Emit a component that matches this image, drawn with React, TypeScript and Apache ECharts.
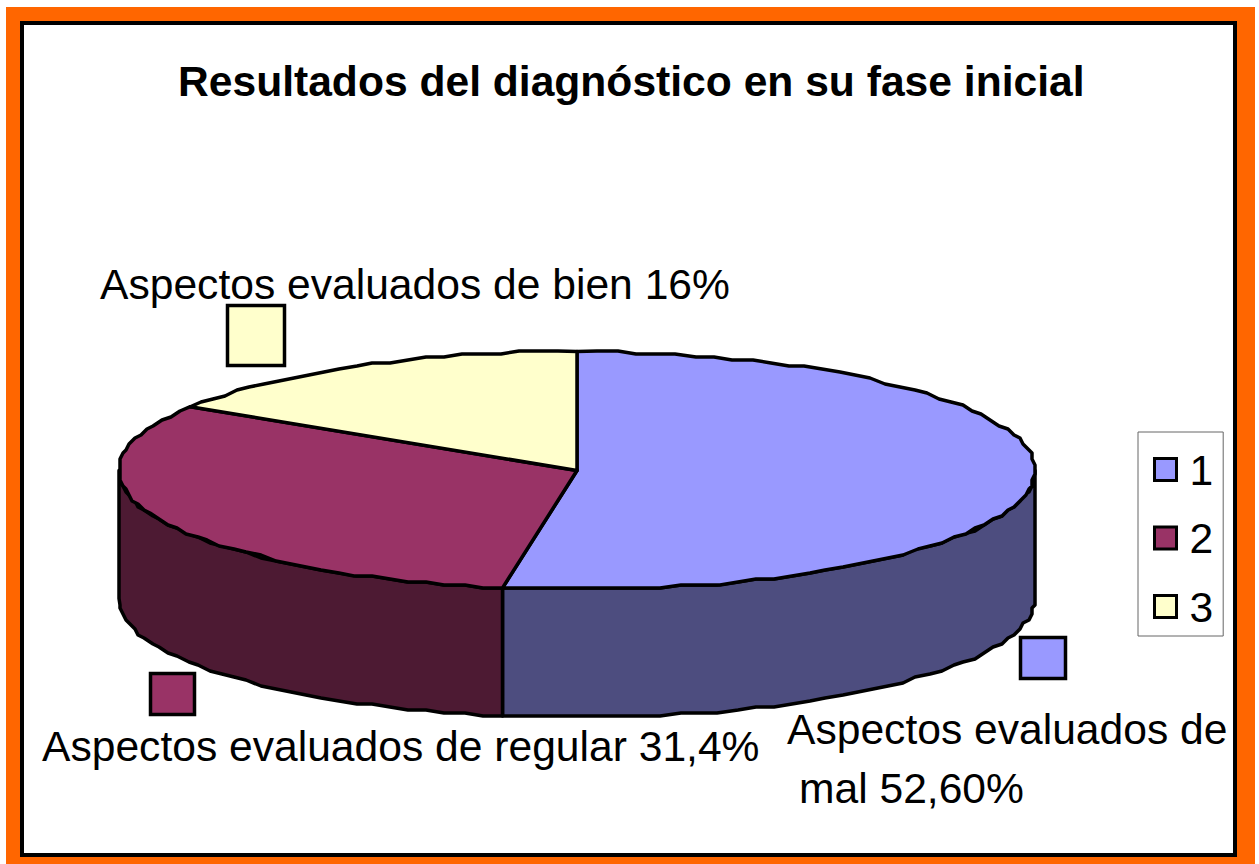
import React, { useEffect, useRef } from "react";
import * as echarts from "echarts";

const legendNames = ["1", "2", "3"];
const shareValues = [52.6, 31.4, 16];
const topColors = ["#9999FF", "#993366", "#FFFFCC"];
const sideColors = ["#4D4D7F", "#4D1A33", "#807F66"];
const titleText = "Resultados del diagnóstico en su fase inicial";
const FONT = "'Liberation Sans', Arial, sans-serif";

const CX = 577, CY = 470.5, RX = 458, RY = 119, DEPTH = 128, GRID = 3, STEP = 2.5;

function rim(from: number, to: number, dy: number) {
  const pts: number[][] = [];
  const n = Math.max(1, Math.ceil(Math.abs(to - from) / STEP));
  for (let i = 0; i <= n; i++) {
    const a = ((from + ((to - from) * i) / n) * Math.PI) / 180;
    let x = CX + RX * Math.sin(a);
    let y = CY - RY * Math.cos(a);
    if (i > 0 && i < n) {
      x = Math.round(x / GRID) * GRID;
      y = Math.round(y / GRID) * GRID;
    }
    pts.push([x, y + dy]);
  }
  return pts;
}

const stroke = { stroke: "#000", lineWidth: 3.5, lineJoin: "round" as const };

function renderSlice(idx: number) {
  return (_p: any, api: any) => {
    const value = api.value(0), before = api.value(1);
    const a0 = (before / 100) * 360, a1 = ((before + value) / 100) * 360;
    const children: any[] = [];
    const s0 = Math.max(a0, 90), s1 = Math.min(a1, 270);
    if (s1 > s0) {
      const upper = rim(s0, s1, 0);
      const lower = rim(s0, s1, DEPTH).reverse();
      children.push({
        type: "polygon",
        shape: { points: [...upper, ...lower] },
        style: { fill: sideColors[idx], ...stroke },
      });
    }
    children.push({
      type: "polygon",
      shape: { points: [[CX, CY], ...rim(a0, a1, 0)] },
      style: { fill: topColors[idx], ...stroke },
    });
    return { type: "group", children };
  };
}

const labelText = (text: string, x: number, y: number) => ({
  type: "text",
  x,
  y,
  z: 10,
  style: { text, fill: "#000", font: `42.6px ${FONT}`, align: "left", verticalAlign: "middle" },
});

const marker = (x: number, y: number, w: number, h: number, fill: string) => ({
  type: "rect",
  z: 9,
  shape: { x, y, width: w, height: h },
  style: { fill, stroke: "#000", lineWidth: 3.5 },
});

export default function App() {
  const ref = useRef<HTMLDivElement>(null);
  useEffect(() => {
    if (!ref.current) return;
    const chart = echarts.init(ref.current, null, { renderer: "svg" });
    let cum = 0;
    const series = shareValues.map((v, i) => {
      const s = {
        type: "custom",
        name: legendNames[i],
        coordinateSystem: "none",
        silent: true,
        z: 3 + i,
        itemStyle: { color: topColors[i] },
        data: [[v, cum]],
        renderItem: renderSlice(i),
      };
      cum += v;
      return s;
    });
    chart.setOption({
      animation: false,
      backgroundColor: "#fff",
      title: {
        text: titleText,
        left: 178,
        top: 59,
        textStyle: { fontFamily: FONT, fontSize: 42.6, fontWeight: "bold", color: "#000" },
        padding: 0,
      },
      legend: {
        orient: "vertical",
        left: 1138,
        top: 432,
        padding: [16, 10, 8, 15],
        itemGap: 25.5,
        itemWidth: 22,
        itemHeight: 22,
        borderColor: "#666",
        borderWidth: 1,
        selectedMode: false,
        textStyle: { fontFamily: FONT, fontSize: 42.6, color: "#000", padding: [0, 0, 0, 8] },
        data: legendNames.map((name, i) => ({
          name,
          icon: "rect",
          itemStyle: { color: topColors[i], borderColor: "#000", borderWidth: 3 },
        })),
      },
      graphic: [
        { type: "rect", z: 0, shape: { x: 6, y: 7, width: 1249, height: 857 }, style: { fill: "#FF6600" } },
        { type: "rect", z: 1, shape: { x: 20, y: 21, width: 1217, height: 836 }, style: { fill: "#000" } },
        { type: "rect", z: 1, shape: { x: 24, y: 25, width: 1209, height: 828 }, style: { fill: "#fff" } },
        marker(227.5, 305.5, 57, 60, topColors[2]),
        marker(150.5, 673.5, 44, 41, topColors[1]),
        marker(1020.5, 637.5, 45, 41, topColors[0]),
        labelText("Aspectos evaluados de bien 16%", 100, 284),
        labelText("Aspectos evaluados de regular 31,4%", 42, 746),
        labelText("Aspectos evaluados de", 787, 729),
        labelText("mal 52,60%", 799, 788),
      ],
      series,
    });
    return () => chart.dispose();
  }, []);
  return (
    <div
      ref={ref}
      style={{ position: "absolute", left: 0, top: 0, width: 1259, height: 864 }}
    />
  );
}
